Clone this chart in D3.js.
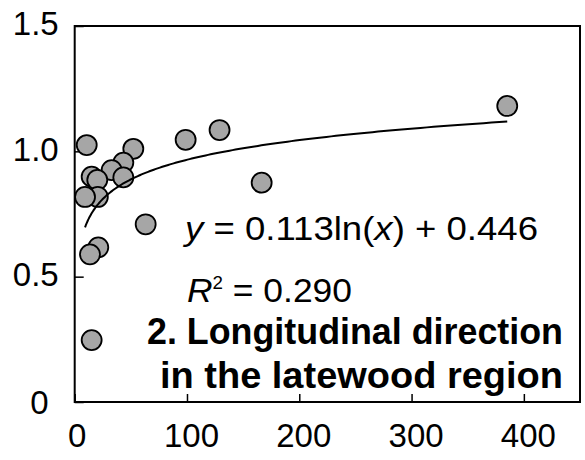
<!DOCTYPE html>
<html><head><meta charset="utf-8">
<script src="https://cdn.jsdelivr.net/npm/d3@7"></script>
<style>body{margin:0;background:#fff}svg{display:block}text{font-family:"Liberation Sans",Arial,sans-serif;fill:#000}</style>
</head><body><div id="chart"></div>
<script>
const xValues = [10.7, 98.8, 52.2, 43.3, 32.9, 43.3, 15.1, 20.1, 20.6, 9.2, 63.2, 21.0, 13.6, 15.1, 129, 166.5, 385.2];
const yValues = [1.025, 1.046, 1.010, 0.955, 0.925, 0.896, 0.899, 0.886, 0.818, 0.818, 0.709, 0.617, 0.589, 0.247, 1.085, 0.875, 1.181];
const xTicks = [0, 100, 200, 300, 400];
const yTicks = [0, 0.5, 1.0, 1.5];
const yTickLabels = ["0", "0.5", "1.0", "1.5"];
const fitCoef = [0.113, 0.446];
const eqLabel = ["y", " = 0.113ln(", "x", ") + 0.446"];
const r2Label = ["R", "2", " = 0.290"];
const titleLines = ["2. Longitudinal direction", "in the latewood region"];

const W = 585, H = 460;
const svg = d3.select("#chart").append("svg").attr("width", W).attr("height", H);
const x = d3.scaleLinear().domain([0, 450]).range([74.7, 580]);
const y = d3.scaleLinear().domain([0, 1.5]).range([402, 26]);

// frame
svg.append("rect").attr("x", x(0)).attr("y", y(1.5)).attr("width", x(450) - x(0)).attr("height", y(0) - y(1.5))
  .attr("fill", "none").attr("stroke", "#000").attr("stroke-width", 2);

// axes (inward ticks)
const gx = svg.append("g").attr("transform", `translate(0,${y(0)})`)
  .call(d3.axisBottom(x).tickValues(xTicks).tickSize(-8).tickFormat(d3.format("d")));
gx.select(".domain").remove();
gx.selectAll(".tick line").attr("stroke", "#000").attr("stroke-width", 1.5);
gx.selectAll(".tick text").attr("font-size", 33).attr("dy", null).attr("y", 45).attr("dx", 4);
gx.selectAll(".tick text").filter(d => d === 0).attr("dx", 2);

const gy = svg.append("g").attr("transform", `translate(${x(0)},0)`)
  .call(d3.axisLeft(y).tickValues(yTicks).tickSize(-9).tickFormat((d, i) => yTickLabels[i]));
gy.select(".domain").remove();
gy.selectAll(".tick line").attr("stroke", "#000").attr("stroke-width", 1.5);
gy.selectAll(".tick text").attr("font-size", 33).attr("dy", "0.36em").attr("x", -16).attr("y", -3);
gy.selectAll(".tick text").filter(d => d === 0).attr("x", -26).attr("y", 0);

// points
const pts = xValues.map((v, i) => [v, yValues[i]]);
svg.append("g").selectAll("circle").data(pts).join("circle")
  .attr("cx", d => x(d[0])).attr("cy", d => y(d[1])).attr("r", 10)
  .attr("fill", "#a6a6a6").attr("stroke", "#000").attr("stroke-width", 1.8);

// fitted log curve
const xmin = d3.min(xValues), xmax = d3.max(xValues);
const curve = d3.range(0, 201).map(i => {
  const xv = xmin * Math.pow(xmax / xmin, i / 200);
  return [xv, fitCoef[0] * Math.log(xv) + fitCoef[1]];
});
svg.append("path").datum(curve)
  .attr("d", d3.line().x(d => x(d[0])).y(d => y(d[1])))
  .attr("fill", "none").attr("stroke", "#000").attr("stroke-width", 2);

// equation
const eq = svg.append("text").attr("x", 185).attr("y", 240).attr("font-size", 34)
  .attr("textLength", 353).attr("lengthAdjust", "spacingAndGlyphs");
eq.append("tspan").attr("font-style", "italic").text(eqLabel[0]);
eq.append("tspan").text(eqLabel[1]);
eq.append("tspan").attr("font-style", "italic").text(eqLabel[2]);
eq.append("tspan").text(eqLabel[3]);

const r2 = svg.append("text").attr("x", 187).attr("y", 302).attr("font-size", 34)
  .attr("textLength", 165).attr("lengthAdjust", "spacingAndGlyphs");
r2.append("tspan").attr("font-style", "italic").text(r2Label[0]);
r2.append("tspan").attr("font-size", 18).attr("dy", -13).text(r2Label[1]);
r2.append("tspan").attr("dy", 13).text(r2Label[2]);

// title
const titleW = [416, 403];
svg.selectAll("text.title").data(titleLines).join("text").attr("class", "title")
  .attr("x", (d, i) => 563 - titleW[i]).attr("y", (d, i) => 344 + i * 44)
  .attr("font-size", 36).attr("font-weight", "bold")
  .attr("textLength", (d, i) => titleW[i]).attr("lengthAdjust", "spacingAndGlyphs")
  .text(d => d);
</script></body></html>
